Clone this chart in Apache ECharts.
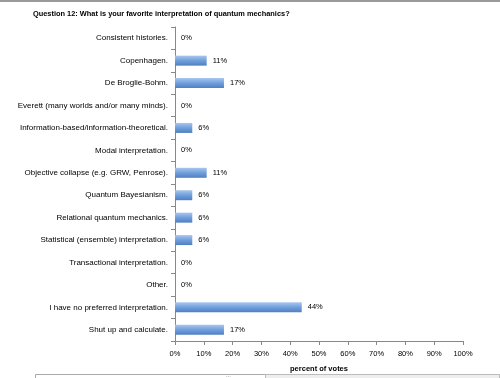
<!DOCTYPE html>
<html><head><meta charset="utf-8">
<script src="https://cdn.jsdelivr.net/npm/echarts@6/dist/echarts.min.js"></script>
<style>html,body{margin:0;padding:0;background:#fff}#c{width:500px;height:378px}</style>
</head><body><div id="c"></div>
<script>
var categories = [
  "Consistent histories.",
  "Copenhagen.",
  "De Broglie-Bohm.",
  "Everett (many worlds and/or many minds).",
  "Information-based/information-theoretical.",
  "Modal interpretation.",
  "Objective collapse (e.g. GRW, Penrose).",
  "Quantum Bayesianism.",
  "Relational quantum mechanics.",
  "Statistical (ensemble) interpretation.",
  "Transactional interpretation.",
  "Other.",
  "I have no preferred interpretation.",
  "Shut up and calculate."
];
var votesPercent = [0, 11, 17, 0, 6, 0, 11, 6, 6, 6, 0, 0, 44, 17];
var xTicks = [0, 10, 20, 30, 40, 50, 60, 70, 80, 90, 100];
var titleText = "Question 12: What is your favorite interpretation of quantum mechanics?";
var xAxisName = "percent of votes";

var FONT = "Liberation Sans";
var chart = echarts.init(document.getElementById('c'), null, {renderer: 'canvas'});
chart.setOption({
  animation: false,
  title: {
    text: titleText, left: 28, top: 5,
    textStyle: {fontFamily: FONT, fontSize: 7.4, fontWeight: 'bold', color: '#000'}
  },
  grid: {left: 175, right: 37, top: 27, bottom: 32, containLabel: false},
  xAxis: {
    type: 'value', min: 0, max: 100, interval: 10,
    name: xAxisName, nameLocation: 'middle', nameGap: 24,
    nameTextStyle: {fontFamily: FONT, fontSize: 7.5, fontWeight: 'bold', color: '#000'},
    axisLine: {show: true, lineStyle: {color: '#888', width: 1}},
    axisTick: {show: true, length: 4, lineStyle: {color: '#888'}},
    splitLine: {show: false},
    axisLabel: {fontFamily: FONT, fontSize: 7.5, color: '#000', margin: 9,
      formatter: function (v) { return v + '%'; }}
  },
  yAxis: {
    type: 'category', data: categories, inverse: true,
    axisLine: {show: true, lineStyle: {color: '#888', width: 1}},
    axisTick: {show: true, length: 4, lineStyle: {color: '#888'}},
    axisLabel: {fontFamily: FONT, fontSize: 8, color: '#000', margin: 7}
  },
  series: [{
    type: 'bar', data: votesPercent, barWidth: 10,
    itemStyle: {
      color: new echarts.graphic.LinearGradient(0, 0, 0, 1, [
        {offset: 0, color: '#a9c6ee'},
        {offset: 0.5, color: '#6f9fdc'},
        {offset: 1, color: '#4f7fc0'}
      ])
    },
    label: {show: true, position: 'right', distance: 6,
      fontFamily: FONT, fontSize: 7.5, color: '#000',
      formatter: function (p) { return p.value + '%'; }}
  }],
  graphic: [
    {type: 'rect', shape: {x: 0, y: 0, width: 500, height: 2}, style: {fill: '#9a9a9a'}},
    {type: 'rect', shape: {x: 35.5, y: 374.5, width: 464, height: 6}, style: {fill: '#fff', stroke: '#aaa', lineWidth: 1}},
    {type: 'rect', shape: {x: 265.5, y: 374.5, width: 234, height: 6}, style: {fill: '#eee', stroke: '#bbb', lineWidth: 1}},
    {type: 'text', x: 226, y: 372, style: {text: '...', font: '6px Liberation Sans', fill: '#666'}}
  ]
});
</script></body></html>
